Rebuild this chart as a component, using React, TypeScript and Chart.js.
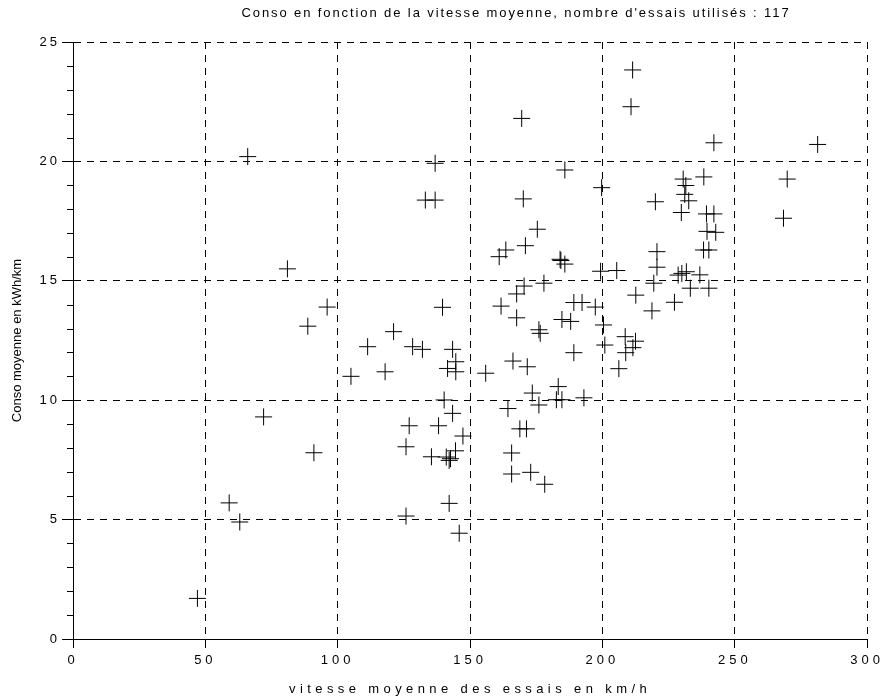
import React, { useEffect, useRef } from "react";
import { Chart, registerables } from "chart.js";

Chart.register(...registerables);

const titleText = "Conso en fonction de la vitesse moyenne, nombre d'essais utilisés : 117";
const xAxisLabel = "vitesse moyenne des essais en km/h";
const yAxisLabel = "Conso moyenne en kWh/km";

const speeds: number[] = [
  47, 59, 63, 66, 72, 81, 88.7, 91, 96, 105,
  111.3, 117.9, 121.1, 125.8, 125.8, 127, 128.3, 132, 133.1, 135.4,
  136.8, 136.8, 138.1, 139.6, 140.2, 141, 141.5, 142.1, 142.1, 143.4,
  143.4, 144.6, 144.6, 144.5, 145.9, 147.3, 155.9, 161, 161.7, 163.5,
  164.3, 165.7, 165.7, 166.2, 167.6, 167.6, 168.8, 169.5, 170.4, 170.1,
  170.9, 171.6, 171.3, 172.9, 173.5, 175.4, 176, 176.5, 176, 177.9,
  178.2, 182.6, 183.3, 184, 184.7, 184.7, 185.8, 185.8, 188, 189.2,
  189.2, 192.3, 193, 197.3, 199.3, 199.7, 200.4, 200.9, 205.4, 206.2,
  208.6, 208.8, 210.8, 211.4, 212.5, 212.6, 211.5, 218.7, 219.4, 220,
  220.6, 220.6, 227.2, 228.6, 230, 231.7, 236.8, 229.8, 230.5, 231.1,
  231.5, 232.6, 233.2, 238.3, 238.2, 239.3, 239.5, 240.2, 240.2, 242.1,
  242.1, 242.8, 268.4, 269.8, 281.3, 184.3, 142.6,
];

const consos: number[] = [
  1.7, 5.7, 4.9, 20.2, 9.3, 15.5, 13.1, 7.8, 13.9, 11.0,
  12.24, 11.19, 12.87, 8.05, 5.15, 8.93, 12.24, 12.13, 18.38, 7.63,
  19.92, 18.38, 8.93, 13.89, 10.01, 7.62, 11.33, 7.48, 5.68, 12.13,
  9.45, 11.61, 11.19, 7.88, 4.43, 8.5, 11.13, 16.01, 13.94, 16.29,
  9.65, 7.79, 6.91, 11.64, 14.45, 13.45, 8.8, 21.8, 14.78, 18.43,
  16.47, 11.4, 8.8, 6.98, 10.3, 17.16, 12.95, 12.8, 9.8, 14.9,
  6.48, 10.02, 10.57, 15.9, 13.38, 10.02, 19.64, 15.7, 13.3, 14.09,
  11.99, 14.09, 10.1, 13.9, 15.4, 18.9, 13.15, 12.31, 15.43, 11.32,
  12.66, 11.99, 22.29, 23.83, 12.47, 14.4, 12.2, 13.74, 14.9, 18.31,
  16.22, 15.57, 14.1, 15.24, 15.31, 15.38, 15.25, 17.86, 19.26, 18.62,
  18.99, 18.35, 14.69, 19.35, 16.29, 17.8, 17.07, 14.69, 16.29, 17.8,
  20.78, 17.03, 17.62, 19.26, 20.71, 15.85, 7.55,
];

const xTicks = [0, 50, 100, 150, 200, 250, 300];
const yTicks = [0, 5, 10, 15, 20, 25];

const FONT = "'Liberation Sans', Arial, sans-serif";

function withSpacing(obj: any, method: string, ls: string, dx = 0) {
  if (!obj || obj["__sp_" + method]) return;
  const orig = obj[method];
  obj[method] = function (...args: any[]) {
    const ctx = this.ctx;
    ctx.save();
    ctx.letterSpacing = ls;
    if (dx) ctx.translate(dx, 0);
    try {
      return orig.apply(this, args);
    } finally {
      ctx.restore();
    }
  };
  obj["__sp_" + method] = true;
}

const spacingPlugin = {
  id: "spacing",
  beforeDraw(chart: any) {
    withSpacing(chart.scales.x, "drawTitle", "4.4px");
    withSpacing(chart.scales.x, "drawLabels", "4px");
    withSpacing(chart.scales.y, "drawLabels", "3px");
    withSpacing(chart.titleBlock, "draw", "1.9px", 82);
  },
};

const minorTicksPlugin = {
  id: "minorTicks",
  afterDraw(chart: any) {
    const y = chart.scales.y;
    const ctx = chart.ctx;
    const left = chart.chartArea.left;
    ctx.save();
    ctx.strokeStyle = "#000";
    ctx.lineWidth = 1;
    for (let v = Math.ceil(y.min); v <= y.max; v++) {
      if (v % 5 === 0) continue;
      const py = Math.round(y.getPixelForValue(v)) + 0.5;
      ctx.beginPath();
      ctx.moveTo(left - 6, py);
      ctx.lineTo(left, py);
      ctx.stroke();
    }
    ctx.restore();
  },
};

export default function App() {
  const ref = useRef<HTMLCanvasElement | null>(null);

  useEffect(() => {
    document.body.style.margin = "0";
    const canvas = ref.current;
    if (!canvas) return;
    const data = speeds.map((s, i) => ({ x: s, y: consos[i] }));
    const chart = new Chart(canvas, {
      type: "scatter",
      data: {
        datasets: [
          {
            data,
            pointStyle: "cross",
            pointRadius: 8.5,
            pointHoverRadius: 8.5,
            borderColor: "#000",
            backgroundColor: "#000",
            borderWidth: 1,
          },
        ],
      },
      plugins: [spacingPlugin, minorTicksPlugin],
      options: {
        animation: false,
        responsive: false,
        maintainAspectRatio: false,
        layout: { padding: { left: 0, right: 15, top: 0, bottom: 0 } },
        plugins: {
          legend: { display: false },
          tooltip: { enabled: false },
          title: {
            display: true,
            text: titleText,
            color: "#000",
            font: { family: FONT, size: 13, weight: "normal", lineHeight: 1.2 },
            padding: { top: 6, bottom: 20.4 },
          },
        },
        scales: {
          x: {
            type: "linear",
            min: 0,
            max: 300,
            afterBuildTicks: (scale: any) => {
              scale.ticks = xTicks.map((v) => ({ value: v }));
            },
            afterFit: (scale: any) => {
              scale.height = 61;
            },
            ticks: {
              color: "#000",
              font: { family: FONT, size: 13 },
              padding: 5,
              maxRotation: 0,
              autoSkip: false,
            },
            grid: {
              color: "#000",
              lineWidth: 1,
              tickColor: "#000",
              tickLength: 9,
              drawOnChartArea: true,
            },
            border: { display: true, color: "#000", width: 1, dash: [7, 6] },
            title: {
              display: true,
              text: xAxisLabel,
              color: "#000",
              font: { family: FONT, size: 13, lineHeight: 1.2 },
              padding: { top: 0, bottom: 3 },
            },
          },
          y: {
            type: "linear",
            min: 0,
            max: 25,
            afterBuildTicks: (scale: any) => {
              scale.ticks = yTicks.map((v) => ({ value: v }));
            },
            afterFit: (scale: any) => {
              scale.width = 73;
            },
            ticks: {
              color: "#000",
              font: { family: FONT, size: 13 },
              padding: 2,
              autoSkip: false,
            },
            grid: {
              color: "#000",
              lineWidth: 1,
              tickColor: "#000",
              tickLength: 11,
            },
            border: { display: true, color: "#000", width: 1, dash: [7, 6] },
            title: {
              display: true,
              text: yAxisLabel,
              color: "#000",
              font: { family: FONT, size: 13, lineHeight: 1.2 },
              padding: { top: 10, bottom: 0 },
            },
          },
        },
      },
    });
    return () => chart.destroy();
  }, []);

  return (
    <div style={{ width: 883, height: 700, background: "#fff" }}>
      <canvas ref={ref} width={883} height={700} style={{ display: "block", width: 883, height: 700 }} />
    </div>
  );
}
